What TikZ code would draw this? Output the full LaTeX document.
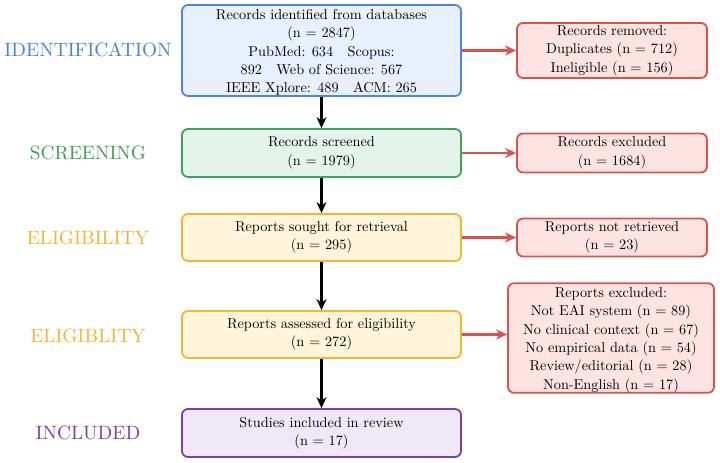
\documentclass[tikz,border=0pt]{standalone}
\usepackage{fontspec}
\setmainfont{lmroman10}[Extension=.otf, UprightFont=*-regular]
\usetikzlibrary{arrows.meta}
\definecolor{bluebd}{HTML}{4A86E8}
\definecolor{bluefl}{HTML}{E8F0FD}
\definecolor{greenbd}{HTML}{3DA55A}
\definecolor{greenfl}{HTML}{E5F4EA}
\definecolor{yellowbd}{HTML}{F4B731}
\definecolor{yellowfl}{HTML}{FFF5DA}
\definecolor{redbd}{HTML}{E0504A}
\definecolor{redfl}{HTML}{FDE4E2}
\definecolor{purplebd}{HTML}{7A3DB8}
\definecolor{purplefl}{HTML}{EFE8F7}
\definecolor{lblblue}{HTML}{4A80DD}
\definecolor{lblgreen}{HTML}{3EA04F}
\definecolor{lblyellow}{HTML}{F1B62E}
\definecolor{lblpurple}{HTML}{7B3DB5}
\tikzset{
  box/.style={draw, line width=1.8pt, rounded corners=6pt, align=center, inner sep=0pt,
    font=\fontsize{14.3}{18.4}\selectfont},
  mainbox/.style={box, minimum width=279pt},
  sidebox/.style={box, minimum width=190pt},
  phase/.style={font=\fontsize{19.3}{24}\selectfont, anchor=center},
  flow/.style={-{Stealth[length=11pt,width=10pt]}, line width=2.2pt, black},
  side/.style={-{Stealth[length=11pt,width=10pt]}, line width=2.2pt, redbd},
}
\begin{document}
\begin{tikzpicture}[x=1pt,y=-1pt]
\useasboundingbox (0,0) rectangle (720,463);
\fill[white] (0,0) rectangle (720,463);
% main boxes
\node[mainbox, draw=bluebd, fill=bluefl, minimum height=91pt] (id) at (321.5,50.5)
  {\rule{0pt}{14pt}Records identified from databases\\(n = 2847)\\PubMed: 634\quad Scopus:\\892\quad Web of Science: 567\\IEEE Xplore: 489\quad ACM: 265};
\node[mainbox, draw=greenbd, fill=greenfl, minimum height=48pt] (scr) at (321.5,153)
  {Records screened\\(n = 1979)};
\node[mainbox, draw=yellowbd, fill=yellowfl, minimum height=47pt] (ret) at (321.5,237.5)
  {Reports sought for retrieval\\(n = 295)};
\node[mainbox, draw=yellowbd, fill=yellowfl, minimum height=47pt] (ass) at (321.5,334.5)
  {Reports assessed for eligibility\\(n = 272)};
\node[mainbox, draw=purplebd, fill=purplefl, minimum height=48pt] (inc) at (321.5,433)
  {Studies included in review\\(n = 17)};
% side boxes
\node[sidebox, draw=redbd, fill=redfl, minimum height=55pt] (rem) at (612,50.5)
  {Records removed:\\Duplicates (n = 712)\\Ineligible (n = 156)};
\node[sidebox, draw=redbd, fill=redfl, minimum height=39pt] (exc) at (612,153)
  {Records excluded\\(n = 1684)};
\node[sidebox, draw=redbd, fill=redfl, minimum height=38pt] (nret) at (612,237.5)
  {Reports not retrieved\\(n = 23)};
\node[box, draw=redbd, fill=redfl, minimum width=206pt, minimum height=102pt] (rexc) at (611,338)
  {\rule{0pt}{14pt}Reports excluded:\\Not EAI system (n = 89)\\No clinical context (n = 67)\\No empirical data (n = 54)\\Review/editorial (n = 28)\\Non-English (n = 17)};
% phase labels
\node[phase, text=lblblue] (l1) at (88,50) {IDENTIFICATION};
\node[phase, text=lblgreen] (l2) at (88,153) {SCREENING};
\node[phase, text=lblyellow] (l3) at (88,237.5) {ELIGIBILITY};
\node[phase, text=lblyellow] (l4) at (88,336) {ELIGIBLITY};
\node[phase, text=lblpurple] (l5) at (88,433) {INCLUDED};
% arrows
\draw[flow] (id) -- (scr);
\draw[flow] (scr) -- (ret);
\draw[flow] (ret) -- (ass);
\draw[flow] (ass) -- (inc);
\draw[side] (id.east) -- (rem.west);
\draw[side] (scr.east) -- (exc.west);
\draw[side] (ret.east) -- (nret.west);
\draw[side] (ass.east) -- (ass.east -| rexc.west);
\end{tikzpicture}
\end{document}
